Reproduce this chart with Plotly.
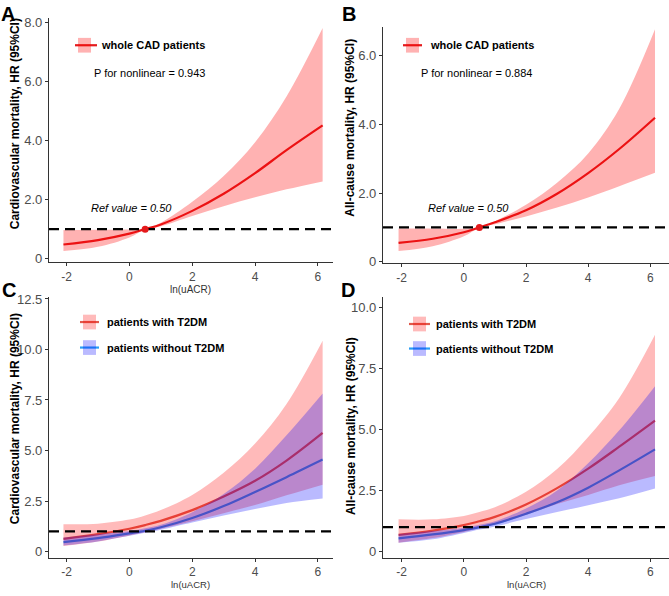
import plotly.graph_objects as go

# ---------------- data ----------------
X = [-2.1, -1, 0, 0.5, 1, 2, 3, 4, 5, 6.15]           # ln(uACR)

# Panel A - cardiovascular mortality, whole CAD patients
A_hr = [0.48, 0.63, 0.85, 1.00, 1.16, 1.62, 2.20, 2.90, 3.68, 4.52]
A_hi = [0.97, 0.98, 0.99, 1.01, 1.22, 1.93, 2.80, 3.95, 5.50, 7.82]
A_lo = [0.26, 0.40, 0.72, 0.99, 1.10, 1.45, 1.78, 2.08, 2.35, 2.62]

# Panel B - all-cause mortality, whole CAD patients
B_hr = [0.55, 0.67, 0.86, 1.00, 1.15, 1.50, 1.98, 2.58, 3.28, 4.19]
B_hi = [0.97, 0.97, 0.96, 1.01, 1.18, 1.66, 2.30, 3.15, 4.45, 6.76]
B_lo = [0.31, 0.45, 0.74, 0.99, 1.09, 1.32, 1.58, 1.87, 2.20, 2.59]

# Panel C - cardiovascular mortality by T2DM
C_t2_hr = [0.63, 0.86, 1.13, 1.31, 1.52, 2.05, 2.72, 3.50, 4.50, 5.87]
C_t2_hi = [1.35, 1.38, 1.58, 1.78, 2.05, 2.80, 3.90, 5.35, 7.30, 10.43]
C_t2_lo = [0.28, 0.50, 0.80, 0.96, 1.13, 1.50, 1.90, 2.30, 2.78, 3.31]
C_no_hr = [0.47, 0.66, 0.90, 1.03, 1.20, 1.66, 2.25, 2.95, 3.68, 4.55]
C_no_hi = [0.70, 0.86, 1.02, 1.15, 1.32, 1.95, 2.85, 4.10, 5.75, 7.82]
C_no_lo = [0.30, 0.50, 0.78, 0.93, 1.08, 1.44, 1.78, 2.10, 2.40, 2.62]

# Panel D - all-cause mortality by T2DM
D_t2_hr = [0.68, 0.86, 1.08, 1.24, 1.42, 1.93, 2.60, 3.40, 4.30, 5.37]
D_t2_hi = [1.32, 1.32, 1.46, 1.62, 1.82, 2.45, 3.38, 4.70, 6.30, 8.89]
D_t2_lo = [0.36, 0.55, 0.80, 0.95, 1.10, 1.50, 1.95, 2.32, 2.72, 3.10]
D_no_hr = [0.54, 0.70, 0.88, 1.00, 1.14, 1.55, 2.02, 2.62, 3.33, 4.19]
D_no_hi = [0.72, 0.84, 0.98, 1.10, 1.24, 1.76, 2.50, 3.62, 4.97, 6.78]
D_no_lo = [0.36, 0.50, 0.76, 0.90, 1.03, 1.33, 1.62, 1.90, 2.18, 2.58]

REF_X = 0.5
REF_HR = 1.0

X_TICKS = [-2, 0, 2, 4, 6]
X_TICKTEXT = ["-2", "0", "2", "4", "6"]
A_YTICKS, A_YTEXT = [0, 2, 4, 6, 8], ["0", "2.0", "4.0", "6.0", "8.0"]
B_YTICKS, B_YTEXT = [0, 2, 4, 6], ["0", "2.0", "4.0", "6.0"]
C_YTICKS, C_YTEXT = [0, 2.5, 5, 7.5, 10, 12.5], ["0", "2.5", "5.0", "7.5", "10.0", "12.5"]
D_YTICKS, D_YTEXT = [0, 2.5, 5, 7.5, 10], ["0", "2.5", "5.0", "7.5", "10.0"]

# axis ranges
XR_L = [-2.56, 6.48]
XR_R = [-2.6, 6.6]
YR_A = [-0.12, 8.17]
YR_B = [-0.04, 6.84]
YR_C = [-0.3, 12.62]
YR_D = [-0.25, 10.46]

# ---------------- styling ----------------
W, H = 669, 596
FONT = "Liberation Sans, Arial, sans-serif"
RED = "#E41A1C"
RED_BAND = "rgba(255,0,0,0.30)"
RED2 = "#E0584A"
BLUE2 = "#2A9DF4"
RED_BAND2 = "rgba(255,0,0,0.27)"
BLUE_BAND2 = "rgba(0,0,255,0.27)"


def px(x):
    return x / W


def py(y):
    return 1 - y / H


fig = go.Figure()


def line(x, y, color, xa, ya, width=2.2):
    fig.add_trace(go.Scatter(x=x, y=y, mode="lines", xaxis=xa, yaxis=ya,
                             line=dict(color=color, width=width, shape="spline", smoothing=1.0),
                             hoverinfo="skip", showlegend=False))


def band(x, lo, hi, color, xa, ya):
    fig.add_trace(go.Scatter(x=x, y=lo, mode="lines", xaxis=xa, yaxis=ya,
                             line=dict(width=0, shape="spline", smoothing=1.0),
                             hoverinfo="skip", showlegend=False))
    fig.add_trace(go.Scatter(x=x, y=hi, mode="lines", xaxis=xa, yaxis=ya,
                             line=dict(width=0, shape="spline", smoothing=1.0),
                             fill="tonexty", fillcolor=color,
                             hoverinfo="skip", showlegend=False))


def refline(xr, xa, ya):
    fig.add_trace(go.Scatter(x=xr, y=[REF_HR, REF_HR], mode="lines", xaxis=xa, yaxis=ya,
                             line=dict(color="black", width=2.4, dash="10px,6px"),
                             hoverinfo="skip", showlegend=False))


# Panel A
line(X, A_hr, RED, "x", "y")
band(X, A_lo, A_hi, RED_BAND, "x", "y")
refline(XR_L, "x", "y")
fig.add_trace(go.Scatter(x=[REF_X], y=[REF_HR], mode="markers", xaxis="x", yaxis="y",
                         marker=dict(color=RED, size=7), showlegend=False, hoverinfo="skip"))

# Panel B
line(X, B_hr, RED, "x2", "y2")
band(X, B_lo, B_hi, RED_BAND, "x2", "y2")
refline(XR_R, "x2", "y2")
fig.add_trace(go.Scatter(x=[REF_X], y=[REF_HR], mode="markers", xaxis="x2", yaxis="y2",
                         marker=dict(color=RED, size=7), showlegend=False, hoverinfo="skip"))

# Panel C
line(X, C_t2_hr, RED2, "x3", "y3")
line(X, C_no_hr, BLUE2, "x3", "y3")
band(X, C_t2_lo, C_t2_hi, RED_BAND2, "x3", "y3")
band(X, C_no_lo, C_no_hi, BLUE_BAND2, "x3", "y3")
refline(XR_L, "x3", "y3")

# Panel D
line(X, D_t2_hr, RED2, "x4", "y4")
line(X, D_no_hr, BLUE2, "x4", "y4")
band(X, D_t2_lo, D_t2_hi, RED_BAND2, "x4", "y4")
band(X, D_no_lo, D_no_hi, BLUE_BAND2, "x4", "y4")
refline(XR_R, "x4", "y4")

axis_common = dict(showgrid=False, zeroline=False, showline=True, linecolor="#333333",
                   linewidth=1.2, ticks="outside", ticklen=3, tickcolor="#333333",
                   tickwidth=1)
yfont = dict(size=13, color="#4D4D4D", family=FONT)
xfont = dict(size=12, color="#4D4D4D", family=FONT)

# domains (pixel boxes -> paper)
dom = {
    "A": ([49, 333], [13, 262]),
    "B": ([383, 669], [22, 263]),
    "C": ([49, 333], [297, 563]),
    "D": ([383, 669], [297, 563]),
}


def xd(k):
    a, b = dom[k][0]
    return [px(a), px(b)]


def yd(k):
    t, b = dom[k][1]
    return [py(b), py(t)]


fig.update_layout(
    width=W, height=H, margin=dict(l=0, r=0, t=0, b=0),
    paper_bgcolor="white", plot_bgcolor="white", showlegend=False,
    font=dict(family=FONT),
    xaxis=dict(domain=xd("A"), range=XR_L, anchor="y", tickvals=X_TICKS, ticktext=X_TICKTEXT, tickfont=xfont, **axis_common),
    yaxis=dict(domain=yd("A"), range=YR_A, anchor="x", tickvals=A_YTICKS, ticktext=A_YTEXT, tickfont=yfont, **axis_common),
    xaxis2=dict(domain=xd("B"), range=XR_R, anchor="y2", tickvals=X_TICKS, ticktext=X_TICKTEXT, tickfont=xfont, **axis_common),
    yaxis2=dict(domain=yd("B"), range=YR_B, anchor="x2", tickvals=B_YTICKS, ticktext=B_YTEXT, tickfont=yfont, **axis_common),
    xaxis3=dict(domain=xd("C"), range=XR_L, anchor="y3", tickvals=X_TICKS, ticktext=X_TICKTEXT, tickfont=xfont, **axis_common),
    yaxis3=dict(domain=yd("C"), range=YR_C, anchor="x3", tickvals=C_YTICKS, ticktext=C_YTEXT, tickfont=yfont, **axis_common),
    xaxis4=dict(domain=xd("D"), range=XR_R, anchor="y4", tickvals=X_TICKS, ticktext=X_TICKTEXT, tickfont=xfont, **axis_common),
    yaxis4=dict(domain=yd("D"), range=YR_D, anchor="x4", tickvals=D_YTICKS, ticktext=D_YTEXT, tickfont=yfont, **axis_common),
)

ann = []


def text(x, y, s, size=11, bold=False, italic=False, xanchor="left", color="black", angle=0):
    if bold:
        s = "<b>" + s + "</b>"
    if italic:
        s = "<i>" + s + "</i>"
    ann.append(dict(x=px(x), y=py(y), xref="paper", yref="paper", text=s, showarrow=False,
                    xanchor=xanchor, yanchor="middle", textangle=angle, borderpad=0,
                    font=dict(size=size, color=color, family=FONT)))


# panel letters
text(8, 9, "A", size=20, bold=True, xanchor="center")
text(349, 9, "B", size=20, bold=True, xanchor="center")
text(9, 290, "C", size=20, bold=True, xanchor="center")
text(348, 290, "D", size=20, bold=True, xanchor="center")

# y titles
text(15, 121.5, "Cardiovascular mortality, HR (95%CI)", size=12, bold=True, xanchor="center", angle=-90)
text(350, 125, "All-cause mortality, HR (95%CI)", size=12, bold=True, xanchor="center", angle=-90)
text(15, 422, "Cardiovascular mortality, HR (95%CI)", size=12, bold=True, xanchor="center", angle=-90)
text(351, 429, "All-cause mortality, HR (95%CI)", size=12, bold=True, xanchor="center", angle=-90)

# x titles
text(191, 290, "ln(uACR)", size=10, xanchor="center", color="#333333")
text(191, 590, "ln(uACR)", size=9.5, xanchor="center", color="#333333")
text(526, 590, "ln(uACR)", size=9.5, xanchor="center", color="#333333")

# legends / notes
text(100, 41, "whole CAD patients", bold=True)
text(93, 69, "P for nonlinear = 0.943")
text(90, 207, "Ref value = 0.50", italic=True)
text(429, 41, "whole CAD patients", bold=True)
text(420, 69, "P for nonlinear = 0.884")
text(427, 207, "Ref value = 0.50", italic=True)
text(106, 323, "patients with T2DM", bold=True)
text(106, 349, "patients without T2DM", bold=True)
text(435, 325, "patients with T2DM", bold=True)
text(435, 350, "patients without T2DM", bold=True)

shapes = []


def key(x0, x1, rx0, rx1, yc, lc, fc):
    shapes.append(dict(type="line", xref="paper", yref="paper", x0=px(x0), x1=px(x1),
                       y0=py(yc), y1=py(yc), line=dict(color=lc, width=2.2)))
    shapes.append(dict(type="rect", xref="paper", yref="paper", x0=px(rx0), x1=px(rx1),
                       y0=py(yc + 7.5), y1=py(yc - 7.5), fillcolor=fc, line=dict(width=0)))


key(75, 97, 78, 91, 41, RED, RED_BAND)
key(403, 422, 406, 419, 41, RED, RED_BAND)
key(80, 99, 83, 96, 323, RED2, RED_BAND2)
key(80, 99, 83, 96, 349, BLUE2, BLUE_BAND2)
key(409, 430, 413, 426, 325, RED2, RED_BAND2)
key(409, 430, 413, 426, 350, BLUE2, BLUE_BAND2)

fig.update_layout(annotations=ann, shapes=shapes)

fig.write_html("out.html", config={"displayModeBar": False},
               post_script="document.body.style.margin='0';document.body.style.overflow='hidden';")
